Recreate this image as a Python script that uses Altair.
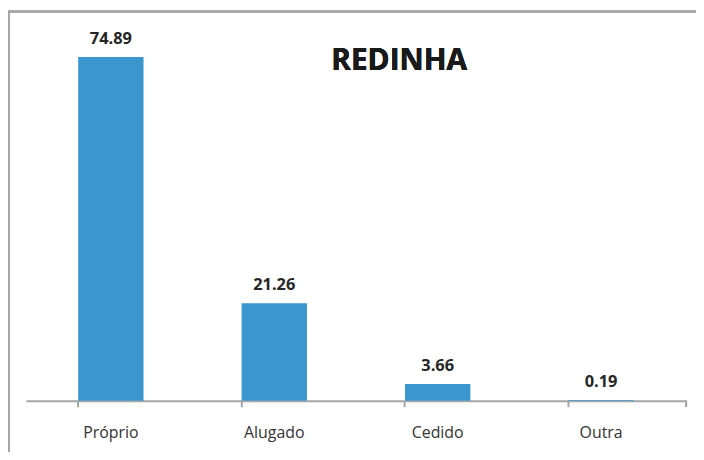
import altair as alt
import pandas as pd

categories = ["Próprio", "Alugado", "Cedido", "Outra"]
values = [74.89, 21.26, 3.66, 0.19]
labels = ["74.89", "21.26", "3.66", "0.19"]
title_text = "REDINHA"

df = pd.DataFrame({"cat": categories, "val": values, "lab": labels})

W, H = 665, 370
xenc = alt.X("cat:N", sort=categories, title=None,
             scale=alt.Scale(paddingInner=0.6, paddingOuter=0.32),
             axis=alt.Axis(labelAngle=0, labelFont="Open Sans", labelFontSize=16,
                           labelColor="#333333", labelPadding=18,
                           domainColor="#a6a6a6", domainWidth=2,
                           tickColor="#a6a6a6", tickWidth=2, tickSize=6,
                           bandPosition=0, grid=False))
yenc = alt.Y("val:Q", scale=alt.Scale(domain=[0, 80]), axis=None)

base = alt.Chart(df)
bars = base.mark_bar(color="#3a96cd").encode(x=xenc, y=yenc)
text = base.mark_text(dy=-18, font="Open Sans", fontSize=16.5, fontWeight="bold",
                      color="#262626").encode(x=alt.X("cat:N", sort=categories), y="val:Q", text="lab:N")
last_tick = alt.Chart(df).mark_rule(color="#a6a6a6", strokeWidth=2).encode(
    x=alt.value(W), y=alt.value(H), y2=alt.value(H + 6))
title = alt.Chart(df).mark_text(font="Open Sans", fontSize=30, fontWeight="bold",
                                color="#1a1a1a").encode(
    x=alt.value(376), y=alt.value(28), text=alt.value(title_text))
border_top = alt.Chart(df).mark_rule(color="#a6a6a6", strokeWidth=2).encode(
    x=alt.value(-18), x2=alt.value(W + 30), y=alt.value(-22))
border_left = alt.Chart(df).mark_rule(color="#a6a6a6", strokeWidth=2).encode(
    x=alt.value(-17), y=alt.value(-22), y2=alt.value(H + 80))

chart = alt.layer(bars, text, last_tick, title, border_top, border_left).properties(
    width=W, height=H,
    autosize=alt.AutoSizeParams(type="none"),
    padding={"left": 18, "top": 24, "right": 10, "bottom": 50},
).configure(background="white", view=alt.ViewConfig(strokeWidth=0, stroke="transparent"))

chart.save("out.html", embed_options={"renderer": "svg", "actions": False})
